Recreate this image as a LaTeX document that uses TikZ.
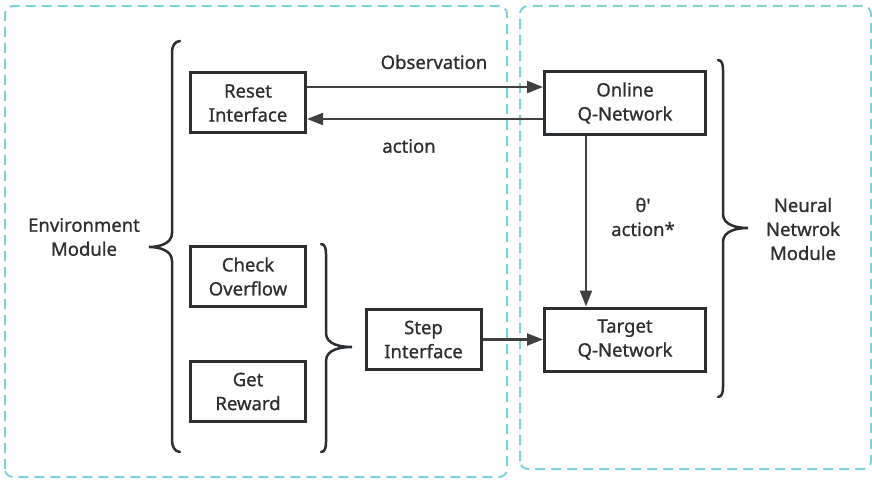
\documentclass[tikz,border=0pt]{standalone}
\usepackage{fontspec}
\setmainfont{Noto Sans}[FakeBold=0.9]
\usepackage{xcolor}
\usetikzlibrary{arrows.meta,positioning,calc}
\definecolor{modteal}{HTML}{7CD3D6}
\definecolor{inkdark}{HTML}{2B2F32}
\definecolor{wiregray}{HTML}{404040}
\definecolor{textdark}{HTML}{2F2F2F}

\begin{document}
\begin{tikzpicture}[x=1pt,y=1pt,
  font=\fontsize{18.5}{24}\selectfont,
  module/.style={draw=modteal,line width=2pt,dash pattern=on 10pt off 6pt,
    rounded corners=8pt},
  block/.style={draw=inkdark,line width=3pt,minimum width=115pt,
    minimum height=60pt,inner sep=0pt,align=center,text=textdark},
  netblock/.style={block,minimum width=161pt,minimum height=63pt},
  lbl/.style={text=textdark,align=center,inner sep=0pt},
  arr/.style={-{Triangle[length=16pt,width=12pt]},line width=2.2pt,wiregray},
  brc/.style={draw=inkdark,line width=2.5pt,line cap=round}
]
\useasboundingbox (0,0) rectangle (872,480);
% dashed module frames
\draw[module] (5,3) rectangle (507,474);
\draw[module] (520,11) rectangle (871,474);
% environment side
\node[block] (reset) at (248,377) {Reset\\Interface};
\node[block] (check) at (248,203.5) {Check\\Overflow};
\node[block] (reward) at (248,88.5) {Get\\Reward};
\node[block] (step) at (423.5,140.5) {Step\\Interface};
% network side
\node[netblock] (online) at (625,377) {Online\\Q-Network};
\node[netblock] (target) at (625,140.5) {Target\\Q-Network};
% braces
\draw[brc] (180,439) to[out=180,in=90] (172,428) -- (172,247)
  to[out=-90,in=0] (149,233) to[out=0,in=90] (172,219) -- (172,40)
  to[out=-90,in=180] (180,28);
\draw[brc] (321,236) to[out=0,in=90] (326,226) -- (326,147)
  to[out=-90,in=180] (352,133) to[out=180,in=90] (326,119) -- (326,38)
  to[out=-90,in=0] (321,28);
\draw[brc] (718,420) to[out=0,in=90] (723,410) -- (723,266)
  to[out=-90,in=180] (748,252) to[out=180,in=90] (723,238) -- (723,93)
  to[out=-90,in=0] (718,83);
% module labels
\node[lbl] (envlbl) at (84,243) {Environment\\Module};
\node[lbl] (netlbl) at (803,251) {Neural\\Netwrok\\Module};
% connectors
\draw[arr] ([yshift=16pt]reset.east) -- ([yshift=16pt]reset.east -| online.west);
\draw[arr] ([yshift=-16pt]online.west) -- ([yshift=-16pt]online.west -| reset.east);
\draw[arr] ([xshift=-39pt]online.south) -- ([xshift=-39pt]target.north);
\draw[arr] (step.east) -- (target.west);
\node[lbl] (obslbl) at (434,418) {Observation};
\node[lbl] (actlbl) at (409,334) {action};
\node[lbl] (synclbl) at (643,263) {θ\textquotesingle\\action*};
\end{tikzpicture}
\end{document}
